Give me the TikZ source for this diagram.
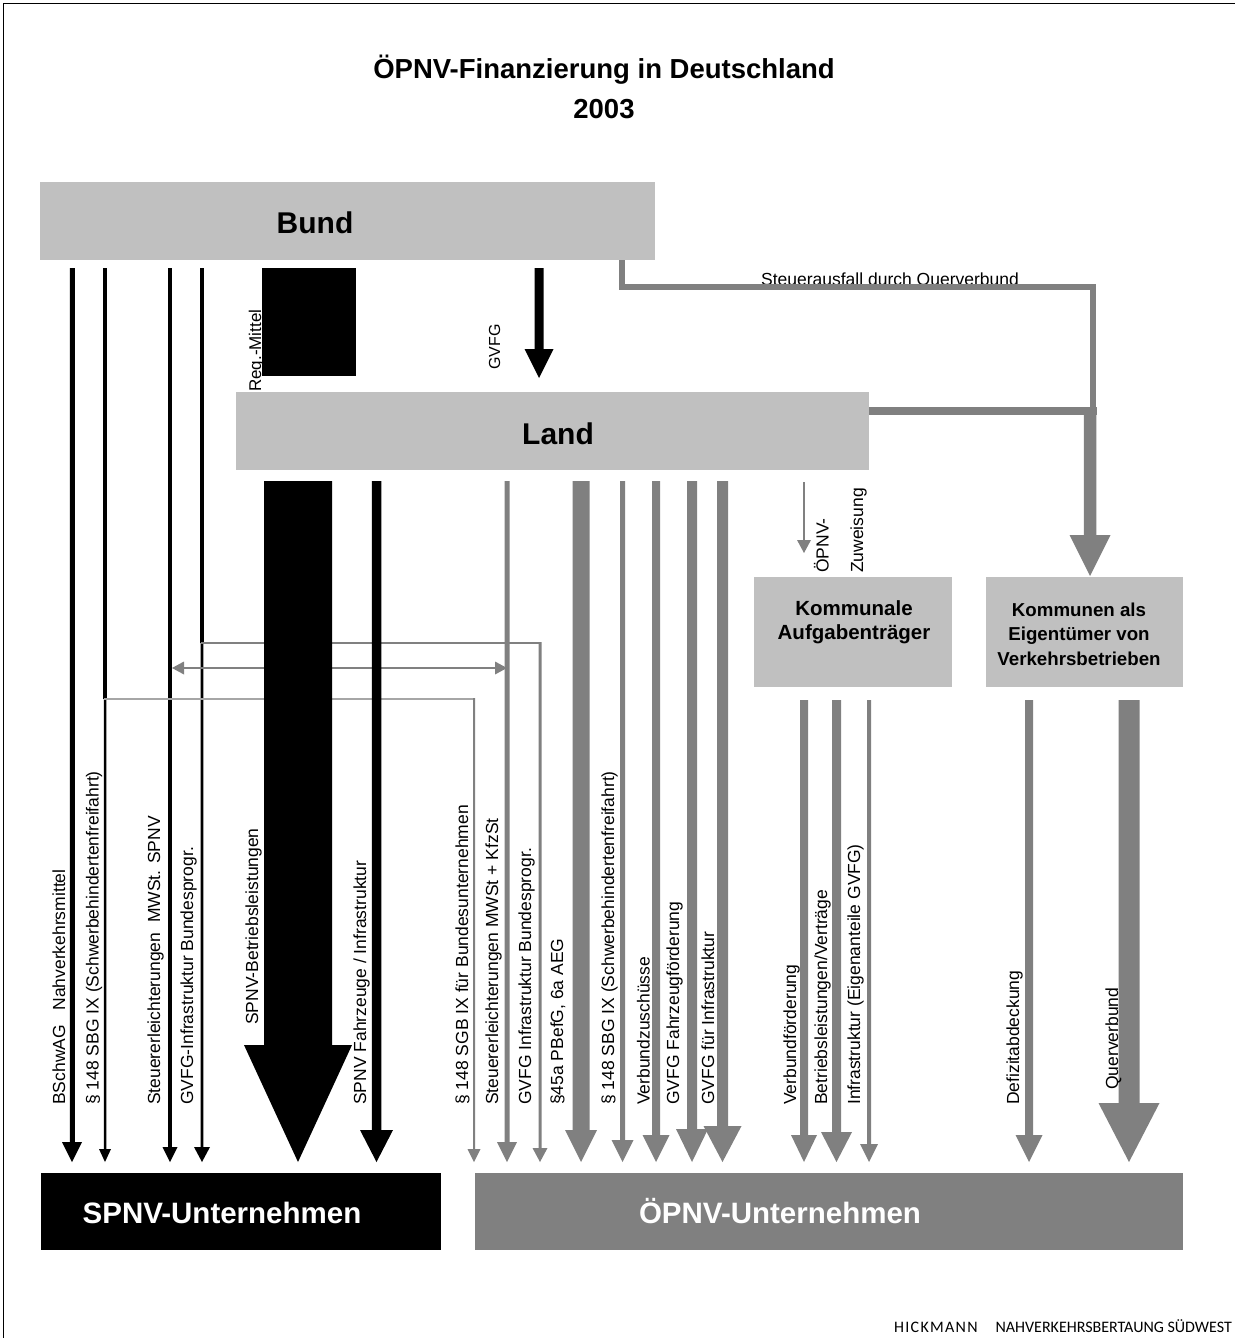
\documentclass[tikz,border=0pt]{standalone}
\usepackage{fontspec}
\setmainfont{Liberation Sans}
\newfontfamily\footfont{Carlito}
\definecolor{lgray}{HTML}{C0C0C0}
\definecolor{dgray}{HTML}{808080}
\definecolor{tgray}{HTML}{A6A6A6}
% block arrow: x, ytop, ybase, ytip, shaft width, head width, colour
\newcommand{\blockarrow}[7]{%
  \fill[#7] ({#1-(#5)/2},#2) -- ({#1+(#5)/2},#2) -- ({#1+(#5)/2},#3) -- ({#1+(#6)/2},#3)
   -- (#1,#4) -- ({#1-(#6)/2},#3) -- ({#1-(#5)/2},#3) -- cycle;}
\begin{document}
\begin{tikzpicture}[x=1pt,y=-1pt,
  boxnode/.style={inner sep=0,outer sep=0,draw=none},
  lbl/.style={rotate=90,anchor=base west,inner sep=0,font=\fontsize{17.5}{20}\selectfont},
  big/.style={anchor=base,inner sep=0,font=\bfseries\fontsize{30}{36}\selectfont},
  ttl/.style={anchor=base,inner sep=0,font=\bfseries\fontsize{27.5}{33}\selectfont},
  kom/.style={anchor=base,inner sep=0,font=\bfseries\fontsize{20.5}{24}\selectfont},
  kom2/.style={anchor=base,inner sep=0,font=\bfseries\fontsize{18.7}{22}\selectfont}]
\useasboundingbox (0,0) rectangle (1235,1338);
\fill[white] (0,0) rectangle (1235,1338);
% frame
\draw[line width=1.4] (3.5,1338) -- (3.5,3.5) -- (1235,3.5);

% title
\node[ttl] (title) at (604,78) {ÖPNV-Finanzierung in Deutschland};
\node[ttl] (year) at (604,118) {2003};

% boxes
\node[boxnode,fill=lgray,minimum width=615,minimum height=78] (bund) at (347.5,221) {};
\node[big] (bundt) at (315,233) {Bund};
\node[boxnode,fill=lgray,minimum width=633,minimum height=78] (land) at (552.5,431) {};
\node[big] (landt) at (558,444) {Land};
\node[boxnode,fill=lgray,minimum width=198,minimum height=110] (kat) at (853,632) {};
\node[kom] (kat1) at (854,615) {Kommunale};
\node[kom] (kat2) at (854,639.5) {Aufgabenträger};
\node[boxnode,fill=lgray,minimum width=197,minimum height=110] (keig) at (1084.5,632) {};
\node[kom2] (keig1) at (1079,616) {Kommunen als};
\node[kom2] (keig2) at (1079,640.5) {Eigentümer von};
\node[kom2] (keig3) at (1079,665) {Verkehrsbetrieben};
\node[boxnode,fill=black,minimum width=400,minimum height=77] (spnv) at (241,1211.5) {};
\node[big,text=white,font=\bfseries\fontsize{29.5}{35}\selectfont] (spnvt) at (222,1223.5) {SPNV-Unternehmen};
\node[boxnode,fill=dgray,minimum width=708,minimum height=77] (opnv) at (829,1211.5) {};
\node[big,text=white,font=\bfseries\fontsize{29.5}{35}\selectfont] (opnvt) at (780,1223.5) {ÖPNV-Unternehmen};

% Reg.-Mittel block and GVFG arrow (Bund -> Land)
\fill[black] (262,268) rectangle (356,376);
\node[lbl,font=\fontsize{17}{20}\selectfont] (regm) at (261,392) {Reg.-Mittel};
\blockarrow{539}{268}{349}{378}{9}{29}{black}
\node[lbl,anchor=base,font=\fontsize{16}{19}\selectfont] (gvfg) at (500,347) {GVFG};

% Steuerausfall connector
\node[anchor=base,inner sep=0,font=\fontsize{17.5}{20}\selectfont] (steuer) at (890,285.5) {Steuerausfall durch Querverbund};
\coordinate (q1) at (622,260);
\coordinate (q2) at (622,287);
\coordinate (q3) at (1093,287);
\coordinate (q4) at (1093,411);
\coordinate (l1) at (869,411);
\draw[dgray,line width=6.5,line join=miter] (q1) -- (q2) -- (q3) -- (q4);
\draw[dgray,line width=7.5] (l1) -- (1096.5,411);
\blockarrow{1090}{408}{535}{576}{12.5}{41}{dgray}

% ÖPNV-Zuweisung
\blockarrow{804}{482}{540}{553}{1.8}{14}{dgray}
\node[lbl] (zuw1) at (828.5,573) {ÖPNV-};
\node[lbl] (zuw2) at (863,573) {Zuweisung};

% Bund -> SPNV lines
\fill[black] (70,268) rectangle (74.5,1143);
\fill[black] (103.2,268) rectangle (106.8,699);
\fill[black] (168.2,268) rectangle (171.8,1148);
\fill[black] (200.2,268) rectangle (203.8,643);
\blockarrow{72}{268}{1142}{1162}{4.5}{20}{black}
\blockarrow{105}{699}{1149}{1162}{2.5}{12}{black}
\blockarrow{170}{268}{1147}{1162}{3.6}{15}{black}
\blockarrow{202}{643}{1147}{1162}{2.6}{16}{black}

% cross connectors
\draw[dgray,line width=2.5] (200.5,643) -- (540,643) -- (540,1149);
\blockarrow{540}{642}{1148}{1162}{3}{15}{dgray}
\draw[tgray,line width=2] (104,699) -- (474,699);
\blockarrow{474}{698}{1149}{1162}{2}{13}{dgray}
\draw[dgray,line width=2] (180,668) -- (500,668);
\fill[dgray] (172,668) -- (184,661.5) -- (184,674.5) -- cycle;
\fill[dgray] (507,668) -- (495,661.5) -- (495,674.5) -- cycle;

% Land -> SPNV
\blockarrow{298}{481}{1045}{1162}{68}{108}{black}
\blockarrow{376.5}{481}{1130}{1162}{9.5}{33}{black}
% Land -> ÖPNV
\blockarrow{507}{481}{1142}{1162}{5}{20}{dgray}
\blockarrow{581}{481}{1130}{1162}{17}{32}{dgray}
\blockarrow{622.5}{481}{1140}{1162}{5}{22}{dgray}
\blockarrow{656}{481}{1135}{1162}{8}{27}{dgray}
\blockarrow{692}{481}{1129}{1162}{10}{32}{dgray}
\blockarrow{722.5}{481}{1126}{1162}{11}{38}{dgray}
% Kommunen -> ÖPNV
\blockarrow{804}{700}{1135}{1162}{8}{26}{dgray}
\blockarrow{836.5}{700}{1132}{1162}{9}{31}{dgray}
\blockarrow{869}{700}{1144}{1162}{4}{18}{dgray}
\blockarrow{1029}{700}{1135}{1162}{8}{27}{dgray}
\blockarrow{1129}{700}{1103}{1162}{21}{61}{dgray}

% labels
\node[lbl] (a1) at (65,1105) {BSchwAG\ \ \ Nahverkehrsmittel};
\node[lbl] (a2) at (98.5,1105) {§ 148 SBG IX (Schwerbehindertenfreifahrt)};
\node[lbl] (a3) at (160,1105) {Steuererleichterungen\ \ MWSt. SPNV};
\node[lbl] (a4) at (193,1105) {GVFG-Infrastruktur Bundesprogr.};
\node[lbl] (a5) at (258,1025) {SPNV-Betriebsleistungen};
\node[lbl] (a6) at (366,1105) {SPNV Fahrzeuge / Infrastruktur};
\node[lbl] (a7) at (468,1105) {§ 148 SGB IX für Bundesunternehmen};
\node[lbl] (a8) at (498,1105) {Steuererleichterungen MWSt + KfzSt};
\node[lbl] (a9) at (531,1105) {GVFG Infrastruktur Bundesprogr.};
\node[lbl] (a10) at (563,1105) {§45a PBefG, 6a AEG};
\node[lbl] (a11) at (614,1105) {§ 148 SBG IX (Schwerbehindertenfreifahrt)};
\node[lbl] (a12) at (649.5,1105) {Verbundzuschüsse};
\node[lbl] (a13) at (679,1105) {GVFG Fahrzeugförderung};
\node[lbl] (a14) at (714,1105) {GVFG für Infrastruktur};
\node[lbl] (a15) at (796,1105) {Verbundförderung};
\node[lbl] (a16) at (827,1105) {Betriebsleistungen/Verträge};
\node[lbl] (a17) at (860,1105) {Infrastruktur (Eigenanteile GVFG)};
\node[lbl] (a18) at (1019,1105) {Defizitabdeckung};
\node[lbl] (a19) at (1118,1090) {Querverbund};

% footer
\node[anchor=base east,inner sep=0,font=\footfont\fontsize{16}{19}\selectfont] (foot) at (1232,1332) {{\addfontfeature{LetterSpace=8.0}HICKMANN}\hspace{18pt}NAHVERKEHRSBERTAUNG SÜDWEST};
\end{tikzpicture}
\end{document}
